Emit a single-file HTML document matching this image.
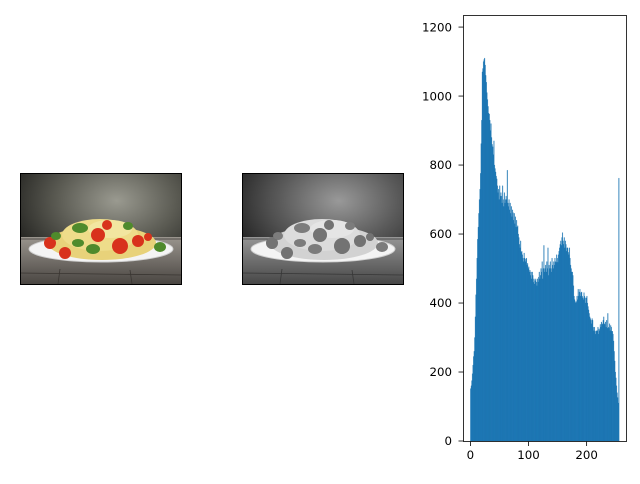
<!DOCTYPE html>
<html><head><meta charset="utf-8">
<style>
body{margin:0;background:#fff;width:640px;height:480px;overflow:hidden;font-family:"DejaVu Sans","Liberation Sans",sans-serif}
svg text{font-family:"DejaVu Sans","Liberation Sans",sans-serif;font-size:11.8px;fill:#000}
</style></head><body>
<svg id="root" width="640" height="480" viewBox="0 0 640 480">
<defs>
<radialGradient id="bg" cx="0.6" cy="0.25" r="0.75">
<stop offset="0" stop-color="#9a9a90"/><stop offset="0.5" stop-color="#5a5a52"/><stop offset="1" stop-color="#1a1a18"/></radialGradient>
<linearGradient id="wood" x1="0" y1="0" x2="0" y2="1"><stop offset="0" stop-color="#9a958e"/><stop offset="1" stop-color="#4a4642"/></linearGradient>
<g id="photo">
<rect x="0" y="0" width="161" height="111" fill="url(#bg)"/>
<rect x="0" y="64" width="161" height="47" fill="url(#wood)"/>
<g stroke="#3a3632" stroke-width="0.8"><line x1="0" y1="66" x2="161" y2="66"/><line x1="0" y1="100" x2="161" y2="102"/><line x1="40" y1="96" x2="38" y2="111"/><line x1="110" y1="97" x2="112" y2="111"/></g>
<ellipse cx="81" cy="76" rx="72" ry="13" fill="#f4f4f4" stroke="#cfcfcf"/>
<ellipse cx="82" cy="70" rx="54" ry="17" fill="#e8d27a"/>
<ellipse cx="80" cy="62" rx="38" ry="16" fill="#eedc8a"/>
<ellipse cx="90" cy="56" rx="22" ry="9" fill="#f2e6a0"/>
<g fill="#d8321c"><circle cx="30" cy="70" r="6"/><circle cx="45" cy="80" r="6"/><circle cx="78" cy="62" r="7"/><circle cx="100" cy="73" r="8"/><circle cx="118" cy="68" r="6"/><circle cx="87" cy="52" r="5"/><circle cx="128" cy="64" r="4"/></g>
<g fill="#4f8a2c"><ellipse cx="60" cy="55" rx="8" ry="5"/><ellipse cx="73" cy="76" rx="7" ry="5"/><ellipse cx="140" cy="74" rx="6" ry="5"/><ellipse cx="36" cy="63" rx="5" ry="4"/><ellipse cx="108" cy="53" rx="5" ry="4"/><ellipse cx="58" cy="70" rx="6" ry="4"/></g>
</g>
<filter id="gray"><feColorMatrix type="saturate" values="0"/></filter>
</defs>
<g>
<svg x="20" y="173" width="161" height="111" viewBox="0 0 161 111"><use href="#photo"/></svg>
<rect x="20.5" y="173.5" width="161" height="111" fill="none" stroke="#000" stroke-width="1"/>
</g>
<g>
<svg x="242" y="173" width="161" height="111" viewBox="0 0 161 111"><g filter="url(#gray)"><use href="#photo"/></g></svg>
<rect x="242.5" y="173.5" width="161" height="111" fill="none" stroke="#000" stroke-width="1"/>
</g>
<g id="hist"></g>
</svg>
<script>
const binCounts = [
152,160,175,195,220,245,260,300,360,424,470,530,585,620,660,700,
730,776,862,930,1070,1080,1100,1106,1110,1090,1060,1040,1010,990,970,950,
948,930,900,920,880,860,853,830,870,800,790,780,768,760,740,720,
730,700,740,710,720,710,690,740,700,680,720,690,700,710,700,785,
690,680,700,670,690,660,680,650,670,662,640,660,630,650,620,640,
620,624,600,590,570,560,580,547,550,540,530,520,545,530,520,527,
530,510,515,500,505,490,495,480,490,470,490,480,460,470,455,465,
470,461,450,470,461,475,490,470,480,500,490,520,470,500,567,490,
500,510,490,520,500,560,480,510,500,520,500,490,530,510,500,520,
510,530,520,518,540,530,518,540,550,560,570,580,567,590,604,580,
570,590,560,580,570,550,560,560,547,540,560,530,510,500,490,490,
480,450,420,410,404,400,404,420,410,440,420,432,440,420,430,432,
420,415,410,430,420,415,400,415,420,400,390,380,370,360,355,350,
340,355,350,330,320,330,318,310,320,318,320,330,310,325,320,338,
330,345,340,338,350,360,340,338,345,330,350,327,370,330,327,340,
320,335,330,318,318,310,290,260,232,200,183,160,140,126,110,762];
const xTicks = [0,100,200];
const yTicks = [0,200,400,600,800,1000,1200];
const NS="http://www.w3.org/2000/svg";
const L=463,R=626,T=15,B=441;
const xMin=-12.75,xMax=267.75,yMax=1235;
const sx=v=>L+(v-xMin)/(xMax-xMin)*(R-L);
const sy=v=>B-v/yMax*(B-T);
const g=document.getElementById('hist');
function mk(t,a){const e=document.createElementNS(NS,t);for(const k in a)e.setAttribute(k,a[k]);return e;}
let d='';
binCounts.forEach((c,i)=>{const x0=sx(i),x1=sx(i+1),y=sy(c);d+=`M${x0},${B}V${y}H${x1}V${B}Z`;});
const bars=mk('path',{d:d,fill:'#1f77b4',stroke:'#1f77b4','stroke-width':0.3});


g.appendChild(bars);
const frame=mk('rect',{x:L+0.5,y:T+0.5,width:R-L,height:B-T,fill:'none',stroke:'#000','stroke-width':0.8});


g.appendChild(frame);
xTicks.forEach(v=>{const x=sx(v);
g.appendChild(mk('line',{x1:x,x2:x,y1:B+0.5,y2:B+5,stroke:'#000','stroke-width':0.8}));
const t=mk('text',{x:x,y:B+18,'text-anchor':'middle'});t.textContent=v;


g.appendChild(t);});
yTicks.forEach(v=>{const y=sy(v);
g.appendChild(mk('line',{x1:L-4.5,x2:L+0.5,y1:y,y2:y,stroke:'#000','stroke-width':0.8}));
const t=mk('text',{x:L-11,y:y+4.2,'text-anchor':'end'});t.textContent=v;


g.appendChild(t);});
</script>
</body></html>
